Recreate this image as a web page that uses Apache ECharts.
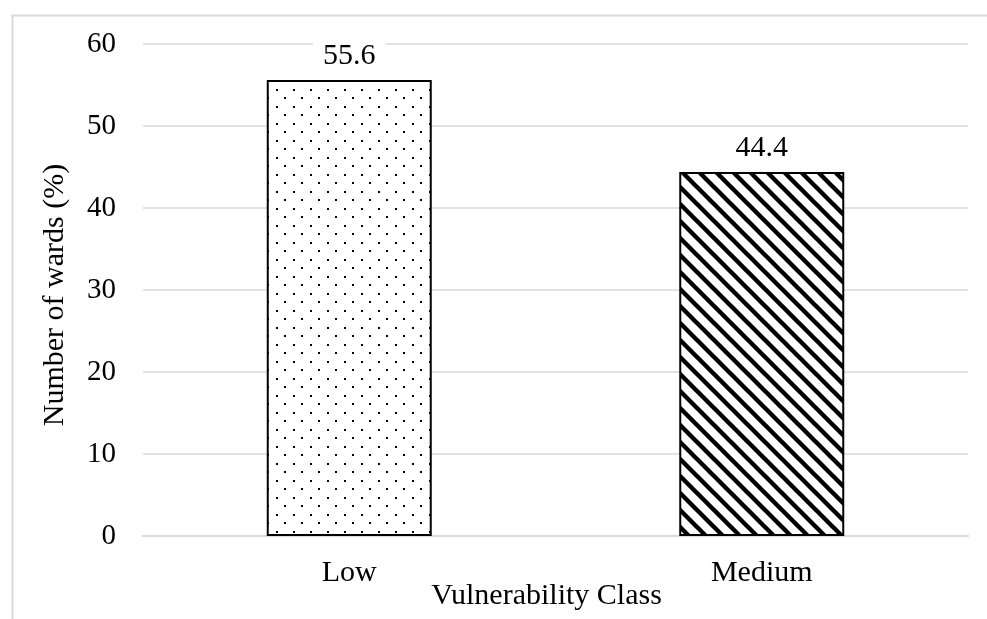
<!DOCTYPE html>
<html>
<head>
<meta charset="utf-8">
<script src="https://cdn.jsdelivr.net/npm/echarts@6/dist/echarts.min.js"></script>
<style>
  html, body { margin: 0; padding: 0; background: #fff; }
  #chart { width: 987px; height: 619px; }
</style>
</head>
<body>
<div id="chart"></div>
<script>
const categories = ['Low', 'Medium']
const values = [55.6, 44.4]
const yTicks = { min: 0, max: 60, interval: 10 }

// dotted fill for "Low"
const makeDots = () => {
  const c = document.createElement('canvas')
  c.width = 17
  c.height = 17
  const ctx = c.getContext('2d')
  ctx.fillStyle = '#fff'
  ctx.fillRect(0, 0, 17, 17)
  ctx.fillStyle = '#000'
  ctx.fillRect(4, 4, 2, 2)
  ctx.fillRect(12, 12, 2, 2)
  return c
}

// diagonal stripes for "Medium"
const makeStripes = () => {
  const s = 17
  const c = document.createElement('canvas')
  c.width = s
  c.height = s
  const ctx = c.getContext('2d')
  ctx.fillStyle = '#fff'
  ctx.fillRect(0, 0, s, s)
  ctx.strokeStyle = '#000'
  ctx.lineWidth = 4.4
  ctx.beginPath()
  ;[-s, 0, s].forEach(o => {
    ctx.moveTo(o - 2, -2)
    ctx.lineTo(o + s + 2, s + 2)
  })
  ctx.stroke()
  return c
}

const fills = [makeDots(), makeStripes()]
const font = 'Liberation Serif'

const chart = echarts.init(document.getElementById('chart'))

chart.setOption({
  backgroundColor: '#fff',
  animation: false,
  graphic: [{
    type: 'rect',
    left: 10,
    top: 13,
    shape: { width: 1100, height: 800 },
    style: { fill: 'none', stroke: '#d9d9d9', lineWidth: 2 },
    silent: true,
    z: -1
  }],
  grid: { left: 143, right: 19, top: 44, bottom: 83, outerBoundsMode: 'none' },
  xAxis: {
    type: 'category',
    data: categories,
    name: 'Vulnerability Class',
    nameLocation: 'middle',
    nameGap: 45,
    nameMoveOverlap: false,
    nameTextStyle: { fontFamily: font, fontSize: 30, color: '#000', padding: [0, 18, 0, 0] },
    axisLine: { lineStyle: { color: '#d9d9d9', width: 2 } },
    axisTick: { show: false },
    axisLabel: { fontFamily: font, fontSize: 30, color: '#000', margin: 22 }
  },
  yAxis: {
    type: 'value',
    min: yTicks.min,
    max: yTicks.max,
    interval: yTicks.interval,
    name: 'Number of wards (%)',
    nameLocation: 'middle',
    nameGap: 73,
    nameMoveOverlap: false,
    nameTextStyle: { fontFamily: font, fontSize: 30, color: '#000', padding: [0, 10, 0, 0] },
    axisLine: { show: false },
    axisTick: { show: false },
    axisLabel: { fontFamily: font, fontSize: 29, color: '#000', margin: 27 },
    splitLine: { lineStyle: { color: '#d9d9d9', width: 1.5 } }
  },
  series: [{
    type: 'bar',
    barWidth: '40%',
    data: values.map((v, i) => ({
      value: v,
      itemStyle: {
        color: { image: fills[i], repeat: 'repeat' },
        borderColor: '#000',
        borderWidth: 2
      }
    })),
    label: {
      show: true,
      position: 'top',
      distance: 7,
      fontFamily: font,
      fontSize: 30,
      color: '#000',
      backgroundColor: '#fff',
      padding: [2, 10]
    }
  }]
})
</script>
</body>
</html>
